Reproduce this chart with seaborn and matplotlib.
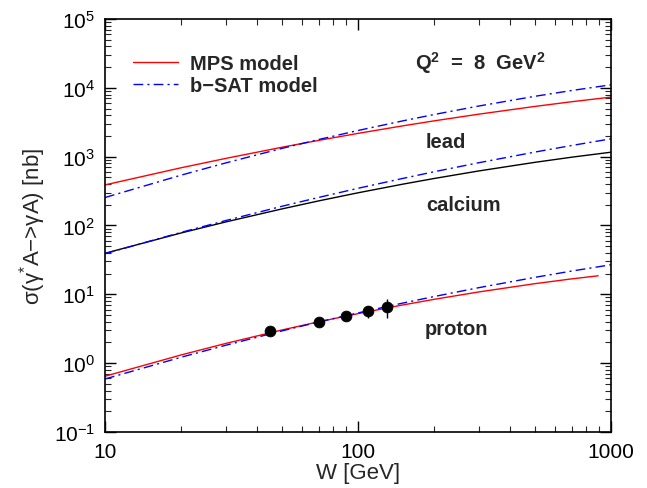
import numpy as np
import pandas as pd
import matplotlib
matplotlib.use("Agg")
import matplotlib.pyplot as plt
from matplotlib.lines import Line2D
import seaborn as sns

# ---------------- data ----------------
W = [10, 20, 30, 50, 70, 100, 150, 200, 300, 500, 700, 1000]
W_proton_mps = [10, 20, 30, 50, 70, 100, 150, 200, 300, 500, 700, 890]

lead_mps = [389, 690, 943, 1369, 1726, 2179, 2800, 3313, 4142, 5367, 6283, 7328]
lead_bsat = [255, 539, 811, 1317, 1776, 2399, 3306, 4098, 5438, 7530, 9151, 11066]
calcium_mps = [39.5, 77.9, 112.6, 174, 228, 298.5, 398, 482, 620, 827, 983, 1161]
calcium_bsat = [38.9, 79.5, 118, 190, 256, 347, 482, 604, 816, 1166, 1454, 1816]
proton_mps = [0.646, 1.317, 1.933, 3.032, 3.992, 5.243, 7.0, 8.46, 10.83, 14.28, 16.78, 18.6]
proton_bsat = [0.589, 1.22, 1.82, 2.94, 3.97, 5.37, 7.45, 9.29, 12.49, 17.64, 21.8, 26.9]

data_W = [45, 70, 90, 110, 130]
data_sigma = [2.91, 3.93, 4.80, 5.67, 6.48]
data_err = [0.35, 0.45, 0.6, 1.1, 2.0]

# ---------------- style ----------------
sns.set_style("ticks")
plt.rcParams["font.family"] = ["Liberation Sans", "DejaVu Sans"]
plt.rcParams["mathtext.fontset"] = "custom"
plt.rcParams["mathtext.rm"] = "Liberation Sans"
plt.rcParams["mathtext.it"] = "Liberation Sans:italic"
plt.rcParams["mathtext.bf"] = "Liberation Sans:bold"

fig = plt.figure(figsize=(6.47, 4.89), dpi=100)
ax = fig.add_axes([105 / 647, 1 - 433 / 489, (611 - 105) / 647, (433 - 20) / 489])

rows = []
for name, ws, vals, model in [
    ("lead", W, lead_mps, "MPS"),
    ("lead", W, lead_bsat, "bSAT"),
    ("calcium", W, calcium_mps, "MPS"),
    ("calcium", W, calcium_bsat, "bSAT"),
    ("proton", W_proton_mps, proton_mps, "MPS"),
    ("proton", W, proton_bsat, "bSAT"),
]:
    for w, v in zip(ws, vals):
        rows.append({"W": w, "sigma": v, "nucleus": name, "model": model})
df = pd.DataFrame(rows)

dashdot = (0, (7, 3, 1.5, 3))
for (name, model), sub in df.groupby(["nucleus", "model"], sort=False):
    if model == "MPS":
        color = "black" if name == "calcium" else "#ff0000"
        ls = "-"
    else:
        color = "#0000ff"
        ls = dashdot
    sns.lineplot(data=sub, x="W", y="sigma", ax=ax, color=color, lw=1.0,
                 linestyle=ls, estimator=None, sort=True, legend=False)

ax.errorbar(data_W, data_sigma, yerr=data_err, fmt="none", ecolor="black",
            elinewidth=1.0, capsize=0, zorder=4)
sns.scatterplot(x=data_W, y=data_sigma, ax=ax, color="black", s=60,
                edgecolor="black", zorder=5, legend=False)

ax.set_xscale("log")
ax.set_yscale("log")
ax.set_xlim(10, 1000)
ax.set_ylim(0.1, 1e5)

ax.set_xticks([10, 100, 1000])
ax.set_xticklabels(["10", "100", "1000"])
yt = [0.1, 1, 10, 100, 1e3, 1e4, 1e5]
ax.set_yticks(yt)
ax.set_yticklabels([r"$10^{%d}$" % int(np.log10(v)) for v in yt])
ax.tick_params(axis="both", which="major", direction="in", length=8, width=1,
               top=True, right=True, labelsize=15, pad=7, colors="black")
ax.tick_params(axis="both", which="minor", direction="in", length=4, width=0.8,
               top=True, right=True)
for s in ax.spines.values():
    s.set_linewidth(1.2)
    s.set_color("black")

ax.set_xlabel("W [GeV]", fontsize=16, labelpad=1)
ax.set_ylabel(r"σ(γ$^{*}$A−>γA) [nb]", fontsize=16, labelpad=4)

fs = 14.5
ax.text(223, 1640, "lead", fontsize=fs, fontweight="bold", ha="center", va="center")
ax.text(262, 200, "calcium", fontsize=fs, fontweight="bold", ha="center", va="center")
ax.text(244, 3.14, "proton", fontsize=fs, fontweight="bold", ha="center", va="center")
ax.text(303, 2.4e4, r"Q$^{\mathbf{2}}$  =  8  GeV$^{\mathbf{2}}$", fontsize=fs, fontweight="bold",
        ha="center", va="center")

handles = [Line2D([], [], color="#ff0000", lw=1.0),
           Line2D([], [], color="#0000ff", lw=1.0, linestyle=dashdot)]
ax.legend(handles, ["MPS model", "b−SAT model"], loc="upper left", frameon=False,
          prop={"weight": "bold", "size": fs}, handlelength=2.2, handletextpad=0.6,
          bbox_to_anchor=(0.04, 0.935), borderaxespad=0, labelspacing=0.15)

fig.savefig("out.png", dpi=100)
